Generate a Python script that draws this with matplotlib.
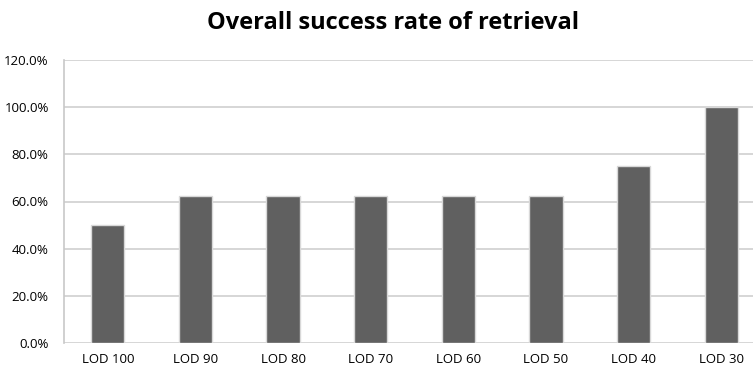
import matplotlib.pyplot as plt
from matplotlib.ticker import PercentFormatter

# success rate per level of detail
lods = ["LOD 100", "LOD 90", "LOD 80", "LOD 70", "LOD 60", "LOD 50", "LOD 40", "LOD 30"]
success = [50.0, 62.5, 62.5, 62.5, 62.5, 62.5, 75.0, 100.0]

plt.rcParams['font.family'] = ['Open Sans', 'DejaVu Sans']

fig = plt.figure(figsize=(7.53, 3.71), dpi=100)
# plot area runs slightly past the right edge of the figure
ax = fig.add_axes([64 / 753, 28 / 371, 701 / 753, 283 / 371])

x = range(len(lods))
ax.bar(x, success, width=0.38, color='#606060', edgecolor='#d8d8d8', linewidth=1.0, zorder=3)

ax.set_xlim(-0.5, len(lods) - 0.5)
ax.set_ylim(0, 120)
ax.set_yticks(range(0, 121, 20))
ax.yaxis.set_major_formatter(PercentFormatter(decimals=1))
ax.set_xticks(list(x))
ax.set_xticklabels(lods)

ax.grid(axis='y', color='#d0d0d0', linewidth=1.2, zorder=0)
for s in ['top', 'right', 'bottom']:
    ax.spines[s].set_visible(False)
ax.spines['left'].set_color('#c8c8c8')
ax.spines['left'].set_linewidth(1.2)
ax.tick_params(length=0, labelsize=9.5, colors='black')
ax.tick_params(axis='x', pad=7)
ax.tick_params(axis='y', pad=11)

fig.text(393 / 753, 1 - 23 / 371, "Overall success rate of retrieval",
         ha='center', va='center', fontsize=17, fontweight='bold')

fig.savefig("out.png", dpi=100)
